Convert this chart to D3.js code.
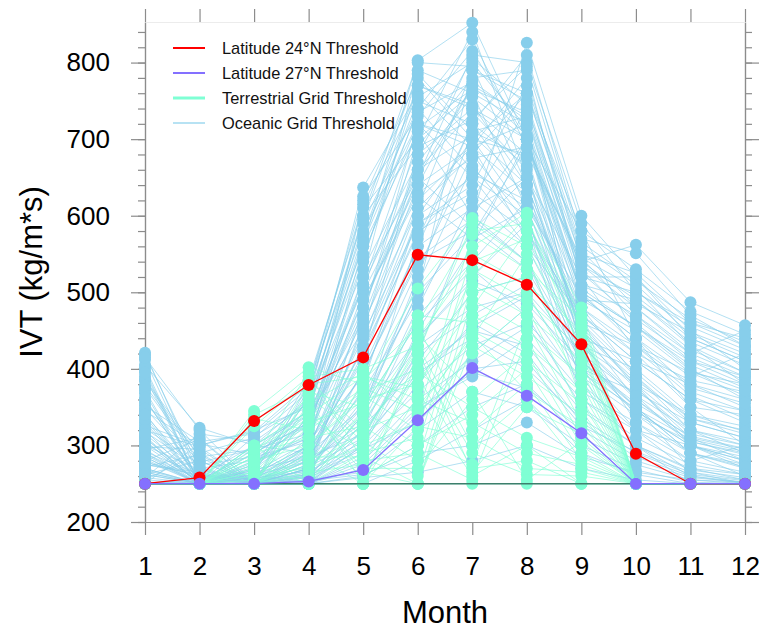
<!DOCTYPE html>
<html>
<head>
<meta charset="utf-8">
<script src="https://cdn.jsdelivr.net/npm/d3@7"></script>
<style>
body { margin: 0; background: #fff; }
svg { display: block; font-family: "Liberation Sans", Arial, Helvetica, sans-serif; }
</style>
</head>
<body>
<div id="chart"></div>
<script>
// monthly IVT thresholds (kg/m*s)
var months = [1, 2, 3, 4, 5, 6, 7, 8, 9, 10, 11, 12];
var monthLabels = ["1", "2", "3", "4", "5", "6", "7", "8", "9", "10", "11", "12"];
var yTicks = [200, 300, 400, 500, 600, 700, 800];

var lat24 = [250, 258, 332, 379, 415, 549, 542, 510, 432, 289, 250, 250];
var lat27 = [250, 250, 250, 253, 268, 333, 401, 365, 316, 250, 250, 250];
var floorLine = [250, 250, 250, 250, 250, 250, 250, 250, 250, 250, 250, 250];

var oceanic = [
  [421,262,255,300,560,803,852,700,480,430,380,350],
  [250,250,250,252,300,420,600,826,600,520,440,410],
  [405,323,300,360,637,760,690,780,540,562,487,457],
  [390,250,270,385,610,700,840,650,450,380,300,270],
  [375,280,250,270,480,650,810,800,590,500,460,440],
  [360,255,290,330,520,790,760,720,420,350,290,260],
  [345,300,320,350,590,740,830,690,500,455,410,380],
  [330,250,250,260,400,560,720,810,570,551,470,430],
  [318,270,280,310,620,780,700,600,380,300,260,250],
  [305,250,260,290,350,500,790,760,555,480,420,450],
  [295,310,250,380,580,720,650,560,470,410,360,330],
  [285,250,300,340,450,680,805,745,520,520,450,400],
  [275,265,250,250,300,450,560,700,580,440,390,420],
  [265,250,270,320,540,770,745,640,400,370,330,310],
  [255,290,310,370,600,690,780,790,510,490,430,380],
  [250,250,250,275,380,600,700,680,440,330,280,300],
  [412,258,265,305,500,640,770,730,530,460,400,360],
  [398,250,250,265,460,610,680,590,360,320,300,280],
  [384,285,295,345,570,750,720,620,480,420,350,340],
  [368,250,255,280,430,590,640,770,560,510,445,415],
  [352,305,315,375,625,730,815,700,460,390,320,290],
  [338,250,250,255,330,480,620,740,545,470,410,390],
  [322,275,285,325,510,660,735,660,410,350,270,255],
  [310,250,262,300,440,620,690,720,500,430,370,345],
  [298,295,250,365,560,710,600,540,390,300,250,250],
  [288,250,275,335,470,700,760,610,430,400,340,325],
  [278,260,300,290,395,540,580,650,520,500,455,425],
  [268,250,250,270,360,510,665,580,450,360,310,295],
  [258,315,305,355,530,670,755,700,490,450,395,365],
  [250,250,258,285,420,580,620,560,420,340,290,270],
  [418,270,250,295,470,720,700,760,580,530,475,445],
  [402,250,280,330,545,740,660,610,440,410,380,360],
  [386,290,250,260,340,520,710,730,510,470,420,390],
  [372,250,268,350,600,800,795,640,460,375,310,280],
  [356,278,295,315,490,630,675,690,535,495,440,410],
  [342,250,250,250,320,470,540,620,470,420,385,370],
  [326,300,318,380,615,755,800,715,495,440,350,300],
  [312,250,260,295,410,600,650,600,400,320,265,250],
  [300,268,250,340,505,690,725,795,565,515,465,435],
  [290,250,285,305,390,560,610,650,480,390,330,310],
  [280,308,250,270,455,640,690,570,430,365,300,285],
  [270,250,272,360,575,770,740,680,545,505,430,395],
  [262,280,250,280,370,490,600,700,500,455,405,375],
  [252,250,296,325,480,660,705,640,455,380,320,305],
  [415,320,250,290,430,610,790,750,525,465,415,385],
  [395,250,278,310,520,650,585,530,410,345,300,275],
  [378,285,250,258,340,570,720,665,490,485,448,420],
  [362,250,300,345,565,735,775,725,520,425,365,335],
  [348,272,250,300,445,590,630,580,470,410,360,345],
  [334,250,265,372,595,785,710,675,430,360,305,290],
  [320,298,250,262,375,530,680,760,550,525,460,430],
  [306,250,290,330,490,625,570,610,495,440,375,355],
  [292,262,250,290,415,680,740,700,440,375,315,300],
  [282,250,312,355,550,720,690,630,465,395,335,315],
  [272,288,250,250,310,440,520,590,460,430,395,380],
  [262,250,275,315,465,650,770,705,505,455,398,372],
  [252,250,250,285,395,545,595,540,415,350,290,275],
  [250,302,288,340,510,715,765,735,535,480,425,395],
  [250,250,250,268,355,500,575,690,540,490,435,405],
  [250,256,262,300,425,575,655,620,450,385,335,320],
  [250,250,250,250,270,340,420,480,380,320,280,265],
  [265,250,250,258,290,380,460,420,330,285,260,252],
  [280,250,255,262,320,410,500,520,400,345,300,280],
  [300,252,250,275,350,460,530,470,350,300,268,258],
  [320,250,262,250,280,350,390,440,360,310,275,262],
  [340,260,250,280,330,430,480,500,420,365,320,300],
  [255,250,250,250,260,300,350,380,310,275,255,250],
  [270,250,258,266,305,395,440,400,335,290,262,254],
  [290,255,250,250,285,360,410,455,370,330,290,272],
  [310,250,268,285,315,420,470,510,430,380,340,318],
  [250,250,250,255,265,320,370,350,300,268,252,250],
  [258,250,252,262,300,370,430,460,390,340,305,288],
  [275,262,250,270,345,440,515,485,410,355,312,296],
  [295,250,260,280,325,400,450,430,345,300,270,262],
  [315,258,250,260,295,330,400,410,325,292,265,255],
  [250,250,250,250,250,280,320,360,290,262,250,250],
  [262,250,256,272,310,390,455,495,395,348,308,292],
  [285,250,250,250,275,345,395,375,320,280,258,252],
  [250,250,250,250,258,265,280,300,270,255,250,250],
  [252,250,250,254,262,290,300,330,285,265,255,252]
];

var terrestrial = [
  [250,250,345,402,380,505,597,560,430,250,250,250],
  [250,250,330,390,400,430,560,604,480,250,250,250],
  [250,250,250,370,350,460,580,590,470,250,250,250],
  [250,250,300,250,330,440,540,570,455,250,250,250],
  [250,250,270,360,250,420,590,540,440,250,250,250],
  [250,250,250,340,390,375,520,600,420,250,250,250],
  [250,250,335,320,370,400,500,520,400,250,250,250],
  [250,250,280,300,360,380,480,580,460,250,250,250],
  [250,250,250,280,340,470,460,500,380,250,250,250],
  [250,250,325,385,320,350,440,550,360,250,250,250],
  [250,250,260,270,300,330,420,480,345,250,250,250],
  [250,250,250,250,290,310,275,460,330,250,250,250],
  [250,250,285,395,280,290,255,440,310,250,250,250],
  [250,250,250,350,270,270,360,420,300,250,250,250],
  [250,250,290,310,260,300,340,400,290,250,250,250],
  [250,250,250,260,385,455,320,380,280,250,250,250],
  [250,250,340,375,310,430,300,360,270,250,250,250],
  [250,250,250,290,250,410,290,262,260,250,250,250],
  [250,250,265,330,355,390,270,280,250,250,250,250],
  [250,250,250,250,250,365,260,300,250,250,250,250],
  [250,250,250,355,395,340,575,530,465,250,250,250],
  [250,250,250,300,365,320,550,510,450,250,250,250],
  [250,250,275,250,345,300,530,490,425,250,250,250],
  [250,250,250,310,325,280,510,470,410,250,250,250],
  [250,250,285,365,305,260,490,450,390,250,250,250],
  [250,250,250,285,285,250,470,430,370,250,250,250],
  [250,250,300,345,265,250,450,410,355,250,250,250],
  [250,250,250,250,250,250,430,390,340,250,250,250],
  [250,250,255,325,375,345,445,370,325,250,250,250],
  [250,250,250,275,315,425,265,350,315,250,250,250],
  [250,250,250,250,250,250,250,250,250,250,250,250],
  [250,250,295,335,295,445,370,255,305,250,250,250],
  [250,250,250,265,275,395,350,310,285,250,250,250],
  [250,250,265,380,390,360,330,290,275,250,250,250],
  [250,250,250,250,250,325,310,270,265,250,250,250]
];

var legendLabels = ["Latitude 24\u00b0N Threshold", "Latitude 27\u00b0N Threshold",
  "Terrestrial Grid Threshold", "Oceanic Grid Threshold"];
var legendColors = ["#ff0000", "#8470ff", "#7fffd4", "#87ceeb"];
var legendWidths = [2, 2, 3, 1.2];

var width = 762, height = 629;

var svg = d3.select("#chart")
  .append("svg")
  .attr("width", width)
  .attr("height", height);

var x = d3.scaleLinear().domain([1, 12]).range([145, 745]);
var y = d3.scaleLinear().domain([200, 853]).range([522, 22]);

var line = d3.line()
  .x(function(d, i) { return x(months[i]); })
  .y(function(d) { return y(d); });

function styleAxis(g) {
  g.select(".domain").style("stroke", "#8c8c8c").style("stroke-width", 1.2);
  g.selectAll(".tick line").style("stroke", "#8c8c8c").style("stroke-width", 1.2);
  g.attr("font-family", null).attr("font-size", 26);
  g.selectAll(".tick text").style("fill", "#000");
}

// minor ticks left / right
svg.append("g")
  .attr("transform", "translate(" + x(1) + ",0)")
  .call(d3.axisLeft(y).ticks(30).tickSize(7).tickSizeOuter(0).tickFormat(""))
  .call(styleAxis);
svg.append("g")
  .attr("transform", "translate(" + x(12) + ",0)")
  .call(d3.axisRight(y).ticks(30).tickSize(7).tickSizeOuter(0).tickFormat(""))
  .call(styleAxis);

svg.append("g")
  .attr("transform", "translate(" + x(1) + ",0)")
  .call(d3.axisLeft(y).tickValues(yTicks).tickSize(14).tickSizeOuter(0).tickPadding(21))
  .call(styleAxis);
svg.append("g")
  .attr("transform", "translate(" + x(12) + ",0)")
  .call(d3.axisRight(y).tickValues(yTicks).tickSize(14).tickSizeOuter(0).tickFormat(""))
  .call(styleAxis);

svg.append("g")
  .attr("transform", "translate(0," + y(200) + ")")
  .call(d3.axisBottom(x).tickValues(months).tickSize(13).tickSizeOuter(0).tickPadding(22)
    .tickFormat(function(d, i) { return monthLabels[i]; }))
  .call(styleAxis);
svg.append("g")
  .attr("transform", "translate(0," + y(853) + ")")
  .call(d3.axisTop(x).tickValues(months).tickSize(13).tickSizeOuter(0).tickFormat(""))
  .call(styleAxis)
  .select(".domain").style("stroke", "#ececec");

// axis titles
svg.append("text")
  .attr("x", 445)
  .attr("y", 623)
  .style("text-anchor", "middle")
  .style("font-size", "31px")
  .style("fill", "#000")
  .text("Month");

svg.append("text")
  .attr("transform", "translate(42,272) rotate(-90)")
  .style("text-anchor", "middle")
  .style("font-size", "31px")
  .style("fill", "#000")
  .text("IVT (kg/m*s)");

// oceanic grids
var plot = svg.append("g");

plot.selectAll(".ocean-line")
  .data(oceanic)
  .enter().append("path")
  .attr("class", "ocean-line")
  .attr("d", line)
  .style("fill", "none")
  .style("stroke", "#87ceeb")
  .style("stroke-opacity", 0.8)
  .style("stroke-width", 0.8);

oceanic.forEach(function(row) {
  plot.selectAll(null)
    .data(row)
    .enter().append("circle")
    .attr("cx", function(d, i) { return x(months[i]); })
    .attr("cy", function(d) { return y(d); })
    .attr("r", 6)
    .style("fill", "#87ceeb");
});

// terrestrial grids
plot.selectAll(".land-line")
  .data(terrestrial)
  .enter().append("path")
  .attr("class", "land-line")
  .attr("d", line)
  .style("fill", "none")
  .style("stroke", "#7fffd4")
  .style("stroke-opacity", 0.8)
  .style("stroke-width", 0.8);

terrestrial.forEach(function(row) {
  plot.selectAll(null)
    .data(row)
    .enter().append("circle")
    .attr("cx", function(d, i) { return x(months[i]); })
    .attr("cy", function(d) { return y(d); })
    .attr("r", 6)
    .style("fill", "#7fffd4");
});

plot.append("path")
  .datum(floorLine)
  .attr("d", line)
  .style("fill", "none")
  .style("stroke", "#3d7f6c")
  .style("stroke-width", 1.6);

// latitude thresholds: 24N drawn first, 27N on top
[[lat24, "#ff0000"], [lat27, "#8470ff"]].forEach(function(s) {
  plot.append("path")
    .datum(s[0])
    .attr("d", line)
    .style("fill", "none")
    .style("stroke", s[1])
    .style("stroke-width", 1.3);
  plot.selectAll(null)
    .data(s[0])
    .enter().append("circle")
    .attr("cx", function(d, i) { return x(months[i]); })
    .attr("cy", function(d) { return y(d); })
    .attr("r", 6)
    .style("fill", s[1]);
});

// legend
var legend = svg.selectAll(".legend")
  .data(legendLabels)
  .enter().append("g")
  .attr("class", "legend")
  .attr("transform", function(d, i) {
    return "translate(0," + (48 + i * 25) + ")";
  });

legend.append("line")
  .attr("x1", 173).attr("x2", 205)
  .attr("y1", 0).attr("y2", 0)
  .style("stroke", function(d, i) { return legendColors[i]; })
  .style("stroke-width", function(d, i) { return legendWidths[i]; });

legend.append("text")
  .attr("x", 222)
  .attr("y", 0)
  .attr("dy", ".35em")
  .style("font-size", "16.4px")
  .style("fill", "#111")
  .text(function(d) { return d; });
</script>
</body>
</html>
